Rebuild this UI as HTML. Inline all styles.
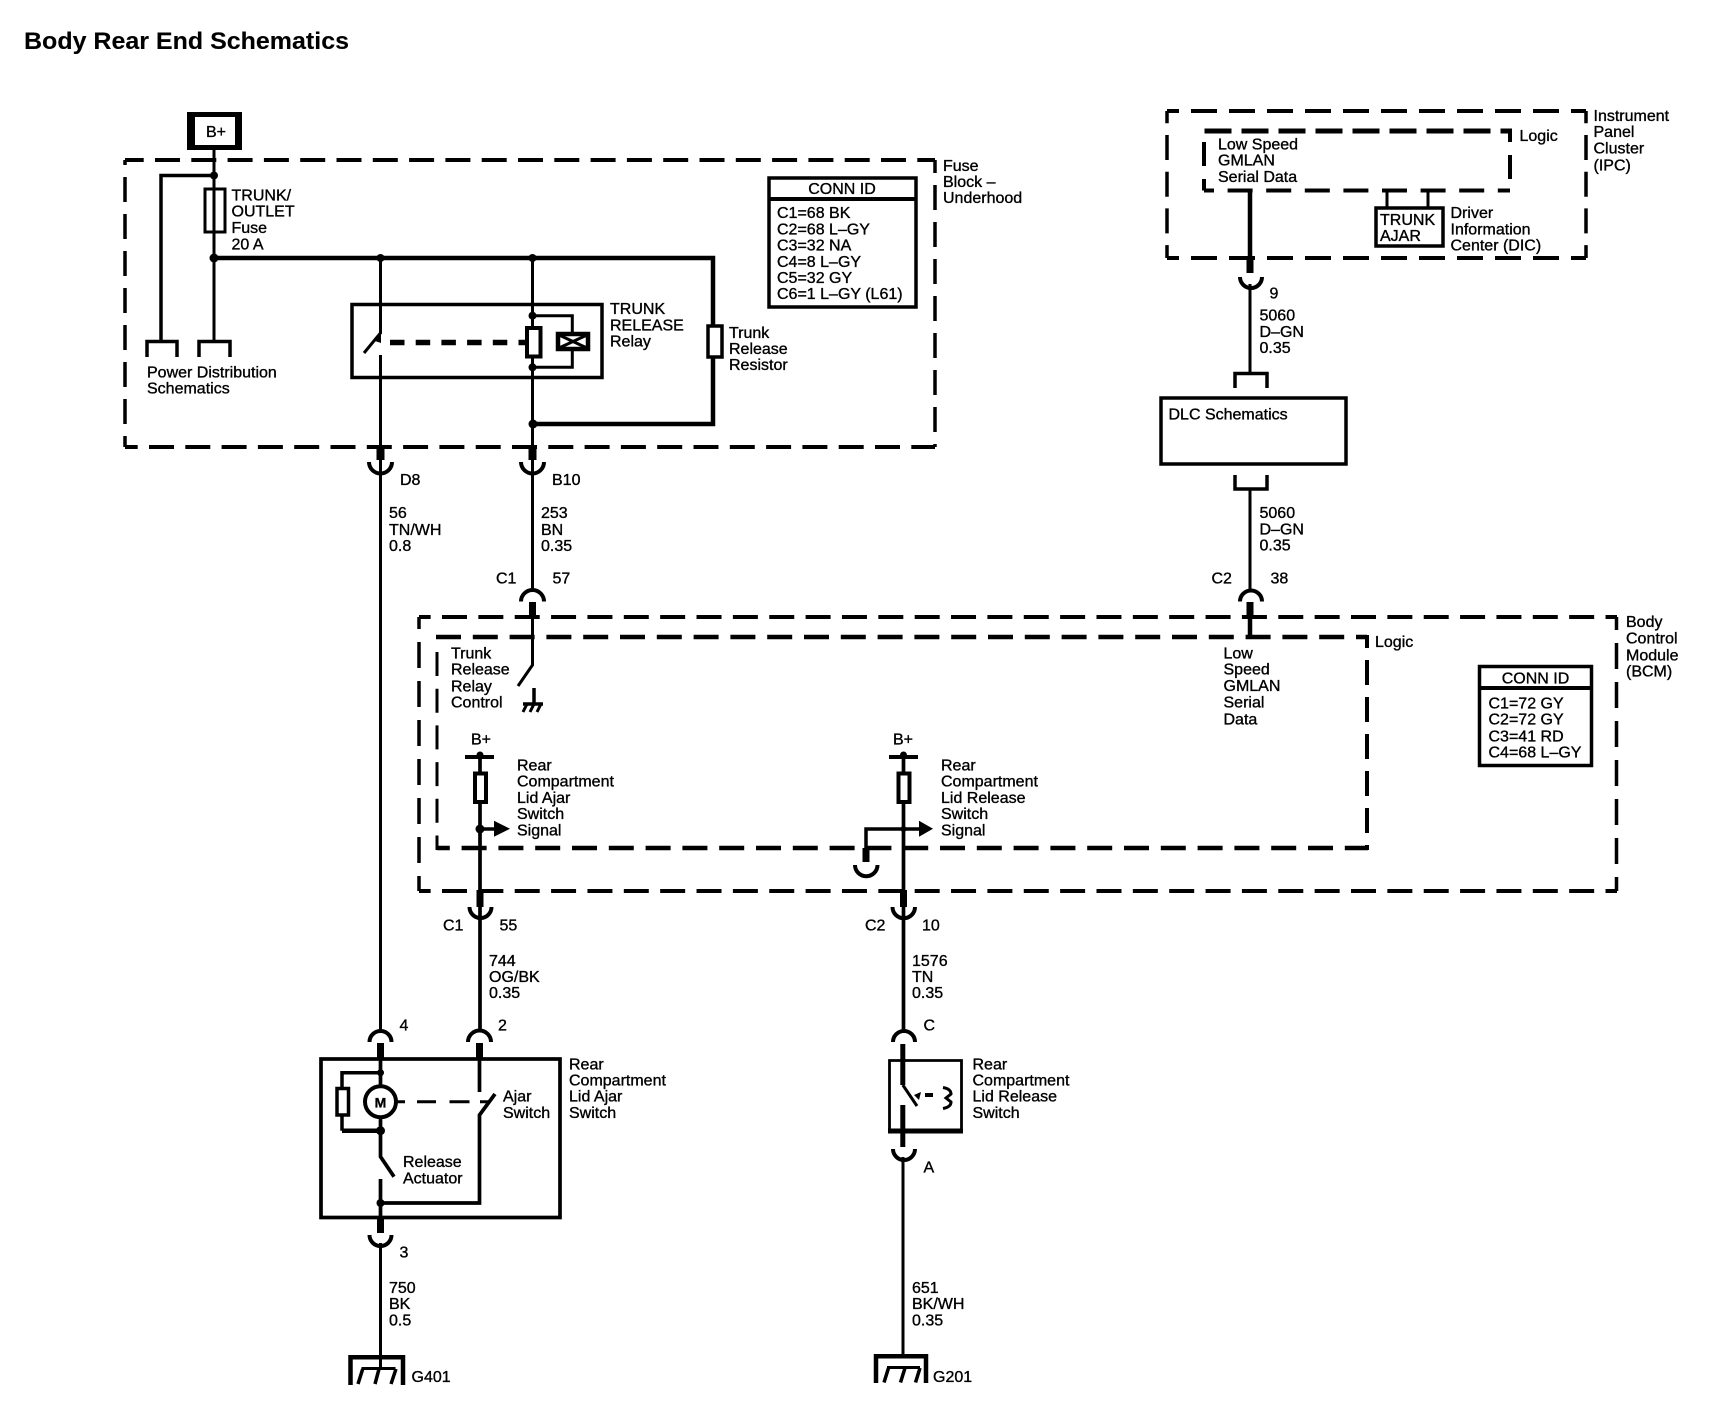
<!DOCTYPE html>
<html><head><meta charset="utf-8"><title>Body Rear End Schematics</title>
<style>
html,body{margin:0;padding:0;background:#fff}
svg{display:block}
text{font-family:"Liberation Sans",sans-serif;font-size:16px;fill:#000;stroke:#000;stroke-width:.35}
.w{fill:none;stroke:#000;stroke-width:3}
.m{fill:none;stroke:#000;stroke-width:3.7}
.t{fill:none;stroke:#000;stroke-width:4.5}
.s{fill:none;stroke:#000;stroke-width:7}
.b{fill:none;stroke:#000;stroke-width:4}
.a{fill:none;stroke:#000;stroke-width:3.5}
.d{fill:none;stroke:#000;stroke-width:4}
.v{fill:none;stroke:#000;stroke-width:3.5}
.f{fill:#000}
</style></head><body>
<svg width="1736" height="1408" viewBox="0 0 1736 1408" xmlns="http://www.w3.org/2000/svg">
<text x="24" y="49" style="font-size:24px;font-weight:bold;stroke-width:.1" textLength="325" lengthAdjust="spacingAndGlyphs">Body Rear End Schematics</text>

<!-- B+ -->
<path class="w" d="M214 147V340"/>
<path fill-rule="evenodd" class="f" d="M187 112H242V150H187ZM195 117V145H235V117Z"/>
<text x="206" y="137">B+</text>

<!-- Fuse block dashed -->
<path class="d" stroke-dasharray="25 11.3" stroke-dashoffset="6.300" d="M125 160H935"/>
<path class="d" stroke-dasharray="25 11.3" stroke-dashoffset="12.300" d="M125 447H935"/>
<path class="v" stroke-dasharray="25 12" stroke-dashoffset="20" d="M125 160V447"/>
<path class="v" stroke-dasharray="25 12" stroke-dashoffset="12" d="M935 160V447"/>

<!-- fuse block wiring -->
<path class="a" d="M214 175.500H161V340"/>
<path class="a" d="M147 357V341.500H177V357M199 357V341.500H230V357"/>
<rect x="205" y="189" width="20" height="43" fill="#fff" stroke="#000" stroke-width="3"/>
<path class="w" d="M214 189V232"/>
<circle class="f" cx="214" cy="175.500" r="4"/><circle class="f" cx="214" cy="258" r="4.500"/>
<path class="t" d="M214 258H713V424H533"/>
<circle class="f" cx="380.500" cy="258" r="4"/><circle class="f" cx="532.500" cy="258" r="4"/><circle class="f" cx="533" cy="424" r="4.500"/>
<rect x="708" y="326" width="14" height="31" fill="#fff" stroke="#000" stroke-width="3.500"/>

<!-- relay -->
<rect x="352" y="304.500" width="250" height="73" fill="none" stroke="#000" stroke-width="3.500"/>
<path class="w" d="M380.500 258V333L364 353M380.500 355V470"/>
<path class="w" d="M532.500 258V470"/>
<path class="f" d="M375 341L381 333L381 343Z"/>
<path fill="none" stroke="#000" stroke-width="5.500" stroke-dasharray="14.500 11.200" d="M390 342.500H526"/>
<rect x="527" y="328" width="13.500" height="28.500" fill="#fff" stroke="#000" stroke-width="4"/>
<path class="w" d="M532.500 315.700H572.300V367.300H532.500"/>
<circle class="f" cx="532.500" cy="315.700" r="4"/><circle class="f" cx="532.500" cy="367.300" r="4"/>
<rect x="558" y="334" width="30" height="15" fill="#fff" stroke="#000" stroke-width="4.500"/>
<path class="w" d="M559 335L587 348M587 335L559 348"/>

<!-- D8 B10 connectors -->
<path class="s" d="M380.500 447V460M532.500 447V460" style="stroke-width:8"/>
<path class="b" d="M369 462A11.500 11.500 0 0 0 392 462M521 462A11.500 11.500 0 0 0 544 462"/>
<path class="w" d="M380.500 470V1031M532.500 470V591"/>

<!-- Conn ID fuse -->
<rect x="769" y="178" width="147" height="129" fill="#fff" stroke="#000" stroke-width="3.500"/>
<path class="b" d="M769 199H916"/>
<text x="842" y="194" text-anchor="middle">CONN ID</text>
<text x="777" y="218">C1=68 BK</text><text x="777" y="234.500">C2=68 L&#8211;GY</text><text x="777" y="250.500">C3=32 NA</text><text x="777" y="267">C4=8 L&#8211;GY</text><text x="777" y="283">C5=32 GY</text><text x="777" y="299">C6=1 L&#8211;GY (L61)</text>

<!-- fuse block labels -->
<text x="231.500" y="200.500">TRUNK/</text><text x="231.500" y="216.500">OUTLET</text><text x="231.500" y="233">Fuse</text><text x="231.500" y="249.500">20 A</text>
<text x="610" y="314">TRUNK</text><text x="610" y="330.500">RELEASE</text><text x="610" y="346.500">Relay</text>
<text x="729" y="338">Trunk</text><text x="729" y="354">Release</text><text x="729" y="370">Resistor</text>
<text x="147" y="377.500">Power Distribution</text><text x="147" y="393.500">Schematics</text>
<text x="943" y="171">Fuse</text><text x="943" y="187">Block &#8211;</text><text x="943" y="203">Underhood</text>
<text x="400" y="485">D8</text><text x="552" y="485">B10</text>
<text x="389" y="518">56</text><text x="389" y="535">TN/WH</text><text x="389" y="551">0.8</text>
<text x="541" y="518">253</text><text x="541" y="535">BN</text><text x="541" y="551">0.35</text>

<!-- IPC -->
<path class="d" stroke-dasharray="26 12" stroke-dashoffset="14" d="M1167 111H1586"/>
<path class="d" stroke-dasharray="26 12" stroke-dashoffset="14" d="M1167 258H1586"/>
<path class="v" stroke-dasharray="25 11.700" stroke-dashoffset="12.700" d="M1167 111V258"/>
<path class="v" stroke-dasharray="25 11.700" stroke-dashoffset="12.700" d="M1586 111V258"/>
<path style="fill:none;stroke:#000;stroke-width:5" stroke-dasharray="27 10" d="M1204.500 131H1512"/>
<path style="fill:none;stroke:#000;stroke-width:4" stroke-dasharray="25 13.600" stroke-dashoffset="15" d="M1204 190.500H1510"/>
<path class="b" d="M1204 142V166M1204 179V190.500M1510 129V142M1510 155V179"/>
<path class="t" d="M1250 190V258"/>
<path class="s" d="M1250 258V273"/>
<path class="b" d="M1240 277A10.500 10.500 0 0 0 1262 277"/>
<path class="w" d="M1250 284V372"/>
<path class="a" d="M1235 388V373.500H1267V388M1235 475V489H1267V475"/>
<path class="w" d="M1387 190V207M1428 190V207"/>
<rect x="1376" y="208" width="67" height="38" fill="#fff" stroke="#000" stroke-width="3.500"/>
<rect x="1161" y="398" width="185" height="66" fill="#fff" stroke="#000" stroke-width="3.500"/>
<path class="w" d="M1250 489V591"/>
<path class="b" d="M1240 601.500A10.500 10.500 0 0 1 1262 601.500"/>
<path class="s" d="M1250 602V618"/>
<path class="t" d="M1250 618V636"/>

<text x="1593.500" y="121">Instrument</text><text x="1593.500" y="137">Panel</text><text x="1593.500" y="153.500">Cluster</text><text x="1593.500" y="170.500">(IPC)</text>
<text x="1519.500" y="141">Logic</text>
<text x="1218" y="149.500">Low Speed</text><text x="1218" y="165.500">GMLAN</text><text x="1218" y="182">Serial Data</text>
<text x="1380" y="225">TRUNK</text><text x="1380" y="241">AJAR</text>
<text x="1450.500" y="218">Driver</text><text x="1450.500" y="234.500">Information</text><text x="1450.500" y="250.500">Center (DIC)</text>
<text x="1269.500" y="298.500">9</text>
<text x="1259.500" y="320.500">5060</text><text x="1259.500" y="337">D&#8211;GN</text><text x="1259.500" y="353">0.35</text>
<text x="1168.500" y="419.500">DLC Schematics</text>
<text x="1259.500" y="518">5060</text><text x="1259.500" y="534.500">D&#8211;GN</text><text x="1259.500" y="550.500">0.35</text>
<text x="1211.500" y="583.500">C2</text><text x="1270.500" y="583.500">38</text>

<!-- BCM -->
<path class="d" stroke-dasharray="25 11.360" stroke-dashoffset="13.360" d="M419 617H1617"/>
<path class="d" stroke-dasharray="25 11.360" stroke-dashoffset="13.360" d="M419 891H1617"/>
<path class="v" stroke-dasharray="26 13" stroke-dashoffset="14" d="M419 617V891"/>
<path class="v" stroke-dasharray="26 13" stroke-dashoffset="13" d="M1616.500 617V891"/>
<path style="fill:none;stroke:#000;stroke-width:4.500" stroke-dasharray="25 11.800" d="M436 637H1367"/>
<path style="fill:none;stroke:#000;stroke-width:4.500" stroke-dasharray="25 11.800" stroke-dashoffset="12.200" d="M437 848H1368"/>
<path style="fill:none;stroke:#000;stroke-width:3" stroke-dasharray="24 12.700" d="M437 652V850"/>
<path style="fill:none;stroke:#000;stroke-width:4" stroke-dasharray="25 12" stroke-dashoffset="12" d="M1367 635V850"/>

<!-- C1 57 -->
<path class="b" d="M521 601.500A11.500 11.500 0 0 1 544 601.500"/>
<path class="s" d="M532.500 602V618"/>
<path class="w" d="M532.500 618V665L518 686"/>
<path class="a" d="M534 688V703M523 704H543"/>
<path class="w" d="M527 704L523 712M534 704L530 712M541 704L537 712"/>
<text x="496" y="583.500">C1</text><text x="552.500" y="583.500">57</text>
<text x="451" y="658.500">Trunk</text><text x="451" y="674.500">Release</text><text x="451" y="691.500">Relay</text><text x="451" y="707.500">Control</text>

<!-- BCM inner left -->
<text x="471" y="744.500">B+</text>
<path class="b" d="M465 757H494"/>
<path class="m" d="M480 753V1031"/>
<circle class="f" cx="480" cy="755" r="3.500"/>
<rect x="475" y="773.500" width="11" height="28.500" fill="#fff" stroke="#000" stroke-width="4"/>
<circle class="f" cx="480" cy="829" r="4.500"/>
<path class="a" d="M480 829H497"/>
<path class="f" d="M494 820.700L510 828.700L494 836.700Z"/>
<text x="517" y="770.500">Rear</text><text x="517" y="786.500">Compartment</text><text x="517" y="803">Lid Ajar</text><text x="517" y="819">Switch</text><text x="517" y="835.500">Signal</text>
<path class="s" d="M480 890V907"/>
<path class="b" d="M469.500 907A11 11 0 0 0 491.500 907"/>
<text x="443" y="930.500">C1</text><text x="499.500" y="930.500">55</text>

<!-- BCM inner right -->
<text x="893" y="744.500">B+</text>
<path class="b" d="M889 757H918"/>
<path class="m" d="M903.500 753V1031"/>
<circle class="f" cx="903.500" cy="755" r="3.500"/>
<rect x="898.500" y="773.500" width="11" height="28.500" fill="#fff" stroke="#000" stroke-width="4"/>
<circle class="f" cx="903.500" cy="829" r="3"/>
<path class="a" d="M866 862V829H921"/>
<path class="s" d="M866 848V862"/>
<path class="f" d="M919 820.700L933 828.700L919 836.700Z"/>
<path class="b" d="M855 865A11 11 0 0 0 877.500 865"/>
<text x="941" y="770.500">Rear</text><text x="941" y="786.500">Compartment</text><text x="941" y="803">Lid Release</text><text x="941" y="819">Switch</text><text x="941" y="835.500">Signal</text>
<path class="s" d="M903.500 890V907"/>
<path class="b" d="M892.500 907A11 11 0 0 0 915 907"/>
<text x="865" y="930.500">C2</text><text x="922" y="930.500">10</text>

<text x="1375" y="647">Logic</text>
<text x="1223.500" y="658.500">Low</text><text x="1223.500" y="674.500">Speed</text><text x="1223.500" y="691">GMLAN</text><text x="1223.500" y="707.500">Serial</text><text x="1223.500" y="724.500">Data</text>
<text x="1626" y="627">Body</text><text x="1626" y="643.500">Control</text><text x="1626" y="660.500">Module</text><text x="1626" y="676.500">(BCM)</text>
<rect x="1479.500" y="666.500" width="112" height="99" fill="#fff" stroke="#000" stroke-width="3.500"/>
<path class="b" d="M1479 688H1592"/>
<text x="1535.500" y="683.500" text-anchor="middle">CONN ID</text>
<text x="1488.500" y="708.500">C1=72 GY</text><text x="1488.500" y="724.500">C2=72 GY</text><text x="1488.500" y="741.500">C3=41 RD</text><text x="1488.500" y="757.500">C4=68 L&#8211;GY</text>

<text x="489" y="966">744</text><text x="489" y="982">OG/BK</text><text x="489" y="998">0.35</text>
<text x="912" y="966">1576</text><text x="912" y="982">TN</text><text x="912" y="998">0.35</text>
<text x="399.500" y="1030.500">4</text><text x="498" y="1030.500">2</text><text x="923.500" y="1030.500">C</text>

<!-- Lower left module -->
<path class="b" d="M369.500 1042A11 11 0 0 1 391.500 1042M468 1042A11.500 11.500 0 0 1 491 1042"/>
<path class="s" d="M380.500 1043V1060M479.500 1043V1060"/>
<rect x="321" y="1059" width="239" height="158.500" fill="none" stroke="#000" stroke-width="3.700"/>
<path class="m" d="M380.500 1058V1085M380.500 1119V1156.700L394 1176.700M380.500 1179V1220"/>
<path class="a" d="M380.500 1072.700H342V1130.700"/>
<path class="t" d="M342 1130.700H380.500"/>
<circle class="f" cx="380.500" cy="1072.700" r="3.500"/><circle class="f" cx="380.500" cy="1130.700" r="4.500"/><circle class="f" cx="380.500" cy="1203" r="4"/>
<rect x="337" y="1088.500" width="11.500" height="26.500" fill="#fff" stroke="#000" stroke-width="3.500"/>
<circle cx="380.500" cy="1101.700" r="15.500" fill="#fff" stroke="#000" stroke-width="4"/>
<text x="380.500" y="1107.300" text-anchor="middle" style="font-size:14px;font-weight:bold">M</text>
<path class="m" d="M380.500 1203H479.500V1115L495 1094M479.500 1058V1092"/>
<path d="M397 1101.700H405M417 1101.700H436M449.500 1101.700H469.500M480 1101.700H489" fill="none" stroke="#000" stroke-width="3"/>
<text x="503" y="1101.500">Ajar</text><text x="503" y="1118">Switch</text>
<text x="403" y="1167">Release</text><text x="403" y="1183.500">Actuator</text>
<text x="569" y="1069.500">Rear</text><text x="569" y="1085.500">Compartment</text><text x="569" y="1101.500">Lid Ajar</text><text x="569" y="1118">Switch</text>
<path class="s" d="M380.500 1218V1233"/>
<path class="b" d="M369.500 1235A11 11 0 0 0 391.500 1235"/>
<path class="w" d="M380.500 1243V1357"/>
<text x="399.500" y="1257.500">3</text>
<text x="389" y="1293">750</text><text x="389" y="1309">BK</text><text x="389" y="1325.500">0.5</text>

<!-- G401 -->
<path class="b" style="stroke-width:4.500" d="M350.500 1385V1357.300H403V1385"/>
<path class="b" style="stroke-width:3" d="M361.500 1368.500H395.500"/>
<path class="a" d="M362.700 1369L358 1384M379 1369L375 1384M396 1369L391 1384"/>
<path class="w" d="M380.500 1357V1369"/>
<text x="411.500" y="1382">G401</text>

<!-- Lower right switch -->
<path class="b" d="M893 1042A11 11 0 0 1 915 1042"/>
<path class="s" d="M902.800 1044V1085" style="stroke-width:5"/>
<path class="w" d="M902.800 1085L917 1106"/>
<path fill="none" stroke="#000" stroke-width="2.800" d="M889.500 1060.500H961.500V1131.500H889.500Z"/>
<path class="b" style="stroke-width:5" d="M888 1131H963"/>
<path class="s" d="M902.800 1105V1147" style="stroke-width:5"/>
<path class="f" d="M914 1095L921 1092L919 1100Z"/>
<path class="b" d="M925 1095H933"/>
<path fill="none" stroke="#000" stroke-width="3" d="M943 1087.500Q951 1089 951 1094L946 1098L951 1102Q951 1107 943 1108.500"/>
<path class="b" d="M893 1149A11 11 0 0 0 915 1149"/>
<path class="w" d="M903 1157V1356"/>
<text x="923.500" y="1172.500">A</text>
<text x="972.500" y="1069.500">Rear</text><text x="972.500" y="1085.500">Compartment</text><text x="972.500" y="1101.500">Lid Release</text><text x="972.500" y="1118">Switch</text>
<text x="912" y="1293">651</text><text x="912" y="1309">BK/WH</text><text x="912" y="1325.500">0.35</text>

<!-- G201 -->
<path class="b" style="stroke-width:4.500" d="M876 1383V1356.300H926V1383"/>
<path class="b" style="stroke-width:3" d="M887 1367.500H920"/>
<path class="a" d="M888.500 1368L884 1382.500M905 1368L900.500 1382.500M920 1368L915.500 1382.500"/>
<text x="933" y="1382">G201</text>
</svg>
</body></html>
